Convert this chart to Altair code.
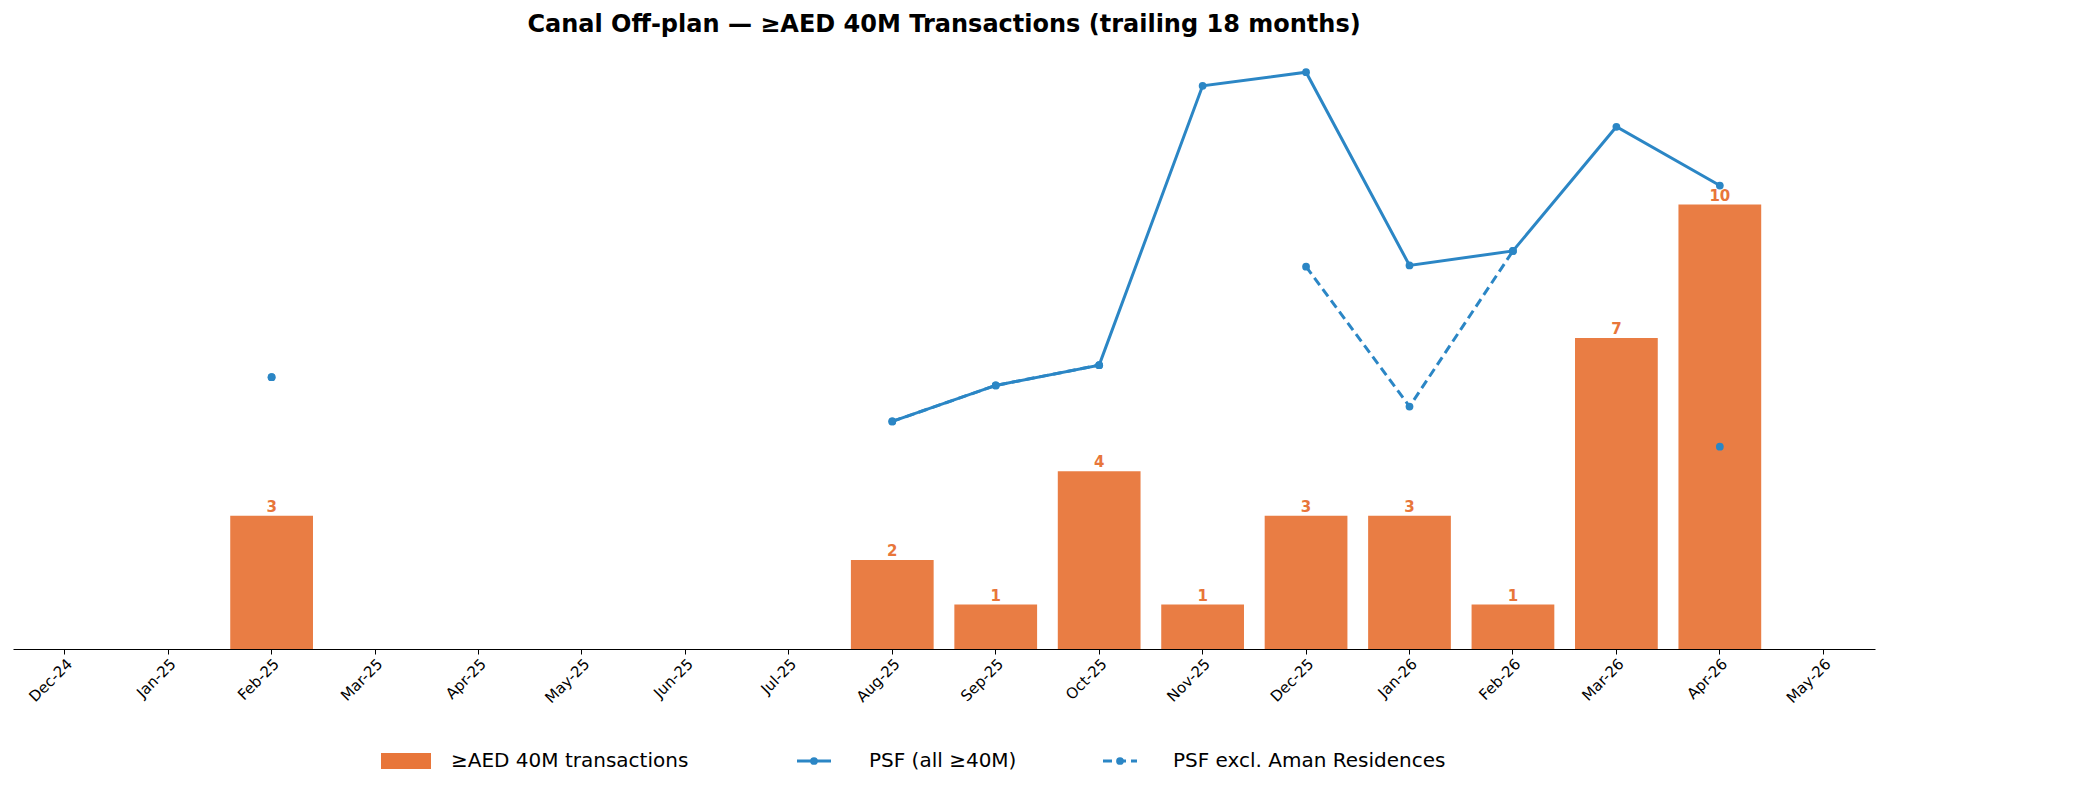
import pandas as pd
import altair as alt

months = ["Dec-24", "Jan-25", "Feb-25", "Mar-25", "Apr-25", "May-25", "Jun-25", "Jul-25", "Aug-25",
          "Sep-25", "Oct-25", "Nov-25", "Dec-25", "Jan-26", "Feb-26", "Mar-26", "Apr-26", "May-26"]
counts = [None, None, 3, None, None, None, None, None, 2, 1, 4, 1, 3, 3, 1, 7, 10, None]
psf_all = [None, None, 6570, None, None, None, None, None, 5500, 6370, 6860, 13610, 13940,
           9270, 9620, 12620, 11200, None]
psf_excl = [None, None, 6570, None, None, None, None, None, 5500, 6370, 6860, None, 9240,
            5860, 9620, None, 4890, None]

ORANGE = "#e8763a"
BLUE = "#2b86c5"
FONT = "DejaVu Sans"

df = pd.DataFrame({"month": months, "count": counts, "psf_all": psf_all, "psf_excl": psf_excl})

x = alt.X("month:N", sort=months, title=None,
          scale=alt.Scale(paddingInner=0.2, paddingOuter=0.1),
          axis=alt.Axis(labelAngle=-45, labelAlign="right", labelBaseline="top", labelFontSize=15,
                        labelColor="black", domainColor="black", tickColor="black", ticks=True))

base = alt.Chart(df).encode(x=x)

y_left = alt.Y("count:Q", title="No. of ≥AED 40M transactions",
               scale=alt.Scale(domain=[0, 13.5], nice=False),
               axis=alt.Axis(values=list(range(0, 14, 2)), labelFontSize=16, titleFontSize=19,
                             titleFontWeight="normal", titleColor="black", labelColor="black",
                             domainColor="black", tickColor="black", gridColor="#e6e6e6"))

bars = base.mark_bar(color=ORANGE, opacity=0.95).encode(y=y_left)
labels = base.mark_text(color=ORANGE, fontWeight="bold", fontSize=15, dy=-9).encode(
    y=alt.Y("count:Q", scale=alt.Scale(domain=[0, 13.5], nice=False), axis=None),
    text="count:Q")
left = alt.layer(bars, labels)

y_right_scale = alt.Scale(domain=[0, 14500], nice=False)
y_right = alt.Y("psf_all:Q", title="Avg PSF (AED)", scale=y_right_scale,
                axis=alt.Axis(orient="right", values=list(range(0, 14001, 2000)), format=",",
                              labelFontSize=16, titleFontSize=19, titleFontWeight="normal",
                              titleColor=BLUE, labelColor=BLUE, domainColor="black",
                              tickColor="black", grid=False))
line_all = base.mark_line(color=BLUE, strokeWidth=3,
                          point=alt.OverlayMarkDef(color=BLUE, size=60, filled=True)).encode(y=y_right)
line_excl = base.mark_line(color=BLUE, strokeWidth=3, strokeDash=[9, 5],
                           point=alt.OverlayMarkDef(color=BLUE, size=60, filled=True)).encode(
    y=alt.Y("psf_excl:Q", scale=y_right_scale, axis=None))
right = alt.layer(line_all, line_excl)

# manual legend below the plot
one = pd.DataFrame({"a": [0]})
ly = 712
leg_rect = alt.Chart(one).mark_rect(color=ORANGE).encode(
    x=alt.value(368), x2=alt.value(418), y=alt.value(ly - 8), y2=alt.value(ly + 8))
leg_l1 = alt.Chart(one).mark_rule(color=BLUE, strokeWidth=3).encode(
    x=alt.value(784), x2=alt.value(818), y=alt.value(ly))
leg_p1 = alt.Chart(one).mark_point(color=BLUE, filled=True, size=60, opacity=1).encode(
    x=alt.value(801), y=alt.value(ly))
leg_l2 = alt.Chart(one).mark_rule(color=BLUE, strokeWidth=3, strokeDash=[9, 5]).encode(
    x=alt.value(1090), x2=alt.value(1124), y=alt.value(ly))
leg_p2 = alt.Chart(one).mark_point(color=BLUE, filled=True, size=60, opacity=1).encode(
    x=alt.value(1107), y=alt.value(ly))
leg_text = alt.Chart(pd.DataFrame({
    "label": ["≥AED 40M transactions", "PSF (all ≥40M)", "PSF excl. Aman Residences"],
    "px": [438, 856, 1160]})).mark_text(align="left", baseline="middle", fontSize=20).encode(
    x=alt.X("px:Q", scale=None), y=alt.value(ly), text="label:N")
legend = alt.layer(leg_rect, leg_l1, leg_p1, leg_l2, leg_p2, leg_text)

chart = alt.layer(left, right, legend).resolve_scale(y="independent", x="shared").properties(
    width=1862, height=600,
    title=alt.Title("Canal Off-plan — ≥AED 40M Transactions (trailing 18 months)",
                    fontSize=24, fontWeight="bold", color="black", offset=12),
).configure(font=FONT).configure_view(stroke=None).configure_axisY(
    domain=True).configure_axis(labelFont=FONT, titleFont=FONT)

chart.save("out.html", embed_options={"renderer": "svg", "actions": False})
